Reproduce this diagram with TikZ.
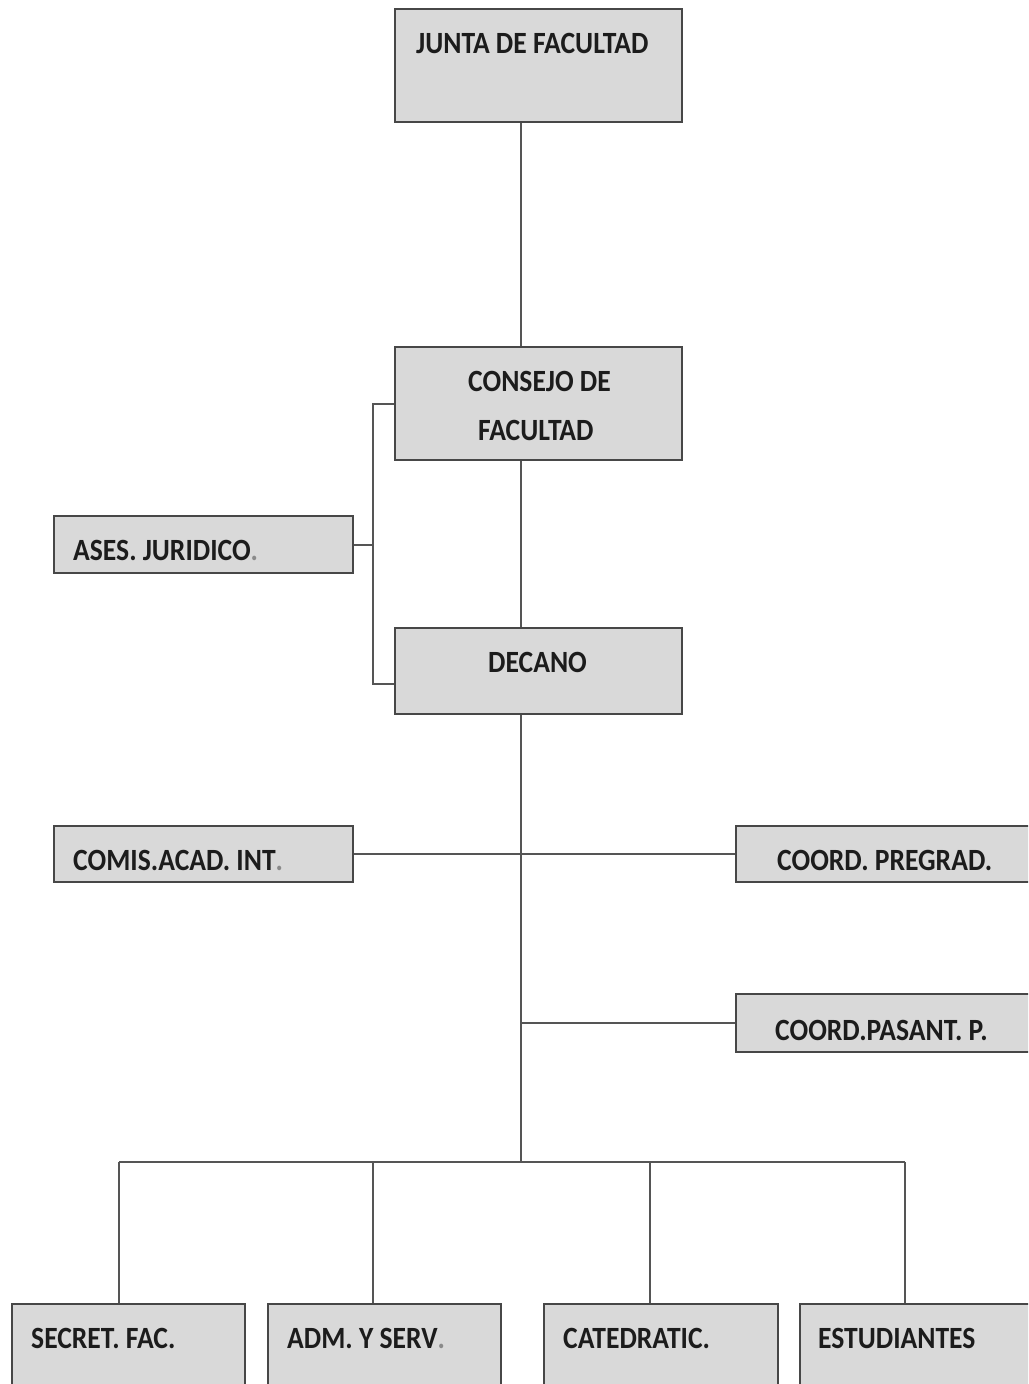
\documentclass[tikz,border=0pt]{standalone}
\usepackage{graphicx}
\usepackage{fontspec}
\setmainfont{Carlito}
\definecolor{boxfill}{HTML}{D9D9D9}
\definecolor{boxline}{HTML}{474747}
\definecolor{wirec}{HTML}{555555}
\definecolor{txt}{HTML}{1C1C1C}
\definecolor{dot}{HTML}{8A8A8A}
\newcommand{\tall}[1]{\scalebox{1}[1.12]{#1}}
\begin{document}
\begin{tikzpicture}[x=1pt,y=-1pt,
  box/.style={draw=boxline, line width=2.4pt, fill=boxfill, rectangle, inner sep=0pt, anchor=north west},
  lbl/.style={anchor=base west, inner sep=0pt, text=txt, font=\fontsize{27.6}{30}\selectfont\bfseries},
  wire/.style={draw=wirec, line width=2.2pt}]
\clip (0,0) rectangle (1028,1384);
\fill[white] (0,0) rectangle (1028,1384);
% boxes
\node[box, minimum width=287pt, minimum height=113pt] (junta) at (394,8) {};
\node[box, minimum width=287pt, minimum height=113pt] (consejo) at (394,346) {};
\node[box, minimum width=287pt, minimum height=86pt] (decano) at (394,627) {};
\node[box, minimum width=299pt, minimum height=57pt] (ases) at (53,515) {};
\node[box, minimum width=299pt, minimum height=56pt] (comis) at (53,825) {};
\node[box, minimum width=310pt, minimum height=56pt] (pregrad) at (735,825) {};
\node[box, minimum width=310pt, minimum height=58pt] (pasant) at (735,993) {};
\node[box, minimum width=233pt, minimum height=100pt] (secret) at (11,1303) {};
\node[box, minimum width=233pt, minimum height=100pt] (adm) at (267,1303) {};
\node[box, minimum width=234pt, minimum height=100pt] (cated) at (543,1303) {};
\node[box, minimum width=234pt, minimum height=100pt] (estud) at (799,1303) {};
% texts
\node[lbl] (juntat) at (416,53) {\tall{JUNTA DE FACULTAD}};
\node[lbl] (consejot1) at (468,391) {\tall{CONSEJO DE}};
\node[lbl] (consejot2) at (478,440) {\tall{FACULTAD}};
\node[lbl] (decanot) at (488,672) {\tall{DECANO}};
\node[lbl] (asest) at (73,560) {\tall{ASES. JURIDICO\textcolor{dot}{.}}};
\node[lbl] (comist) at (73,870) {\tall{COMIS.ACAD. INT\textcolor{dot}{.}}};
\node[lbl] (pregradt) at (777,870) {\tall{COORD. PREGRAD.}};
\node[lbl] (pasantt) at (775,1040) {\tall{COORD.PASANT. P.}};
\node[lbl] (secrett) at (31,1348) {\tall{SECRET. FAC.}};
\node[lbl] (admt) at (287,1348) {\tall{ADM. Y SERV\textcolor{dot}{.}}};
\node[lbl] (catedt) at (563,1348) {\tall{CATEDRATIC.}};
\node[lbl] (estudt) at (818,1348) {\tall{ESTUDIANTES}};
% connectors
\coordinate (tx) at (521,0);
\coordinate (bx) at (373,0);
\coordinate (bus) at (521,1162);
\coordinate (d1) at (119,1162);
\coordinate (d2) at (373,1162);
\coordinate (d3) at (650,1162);
\coordinate (d4) at (905,1162);
\coordinate (brb) at (394,684);
\draw[wire] (junta.south -| tx) -- (consejo.north -| tx);
\draw[wire] (consejo.south -| tx) -- (decano.north -| tx);
\draw[wire] (decano.south -| tx) -- (bus);
\draw[wire] (consejo.west) -| (bx |- brb) -- (brb);
\draw[wire] (ases.east) -- (ases.east -| bx);
\draw[wire] (comis.east) -- (pregrad.west);
\draw[wire] (pasant.west) -- (pasant.west -| tx);
\draw[wire] (d1) -- (d4);
\draw[wire] (d1) -- (d1 |- secret.north);
\draw[wire] (d2) -- (d2 |- adm.north);
\draw[wire] (d3) -- (d3 |- cated.north);
\draw[wire] (d4) -- (d4 |- estud.north);
\end{tikzpicture}
\end{document}
